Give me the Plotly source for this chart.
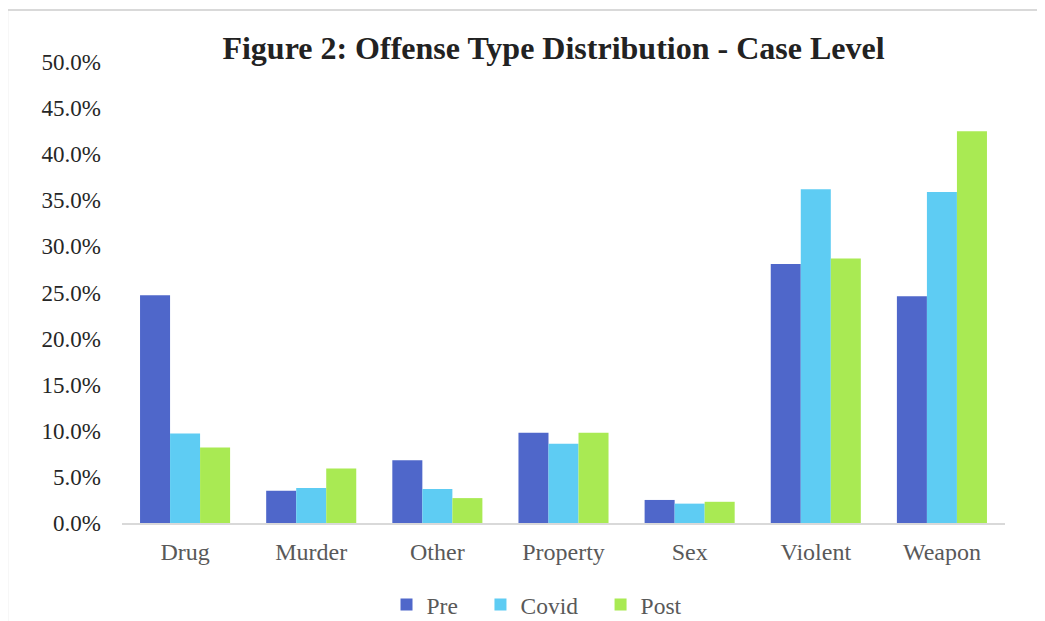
import plotly.graph_objects as go

categories = ['Drug', 'Murder', 'Other', 'Property', 'Sex', 'Violent', 'Weapon']
pre = [0.247, 0.035, 0.068, 0.098, 0.025, 0.281, 0.246]
covid = [0.097, 0.038, 0.037, 0.086, 0.021, 0.362, 0.359]
post = [0.082, 0.059, 0.027, 0.098, 0.023, 0.287, 0.425]

colors = {'Pre': '#4F67CA', 'Covid': '#5ECCF3', 'Post': '#A9EA53'}
pad = '&nbsp;' * 3

fig = go.Figure()
for name, vals, label in [('Pre', pre, 'Pre' + pad), ('Covid', covid, 'Covid' + pad), ('Post', post, 'Post')]:
    fig.add_trace(go.Bar(name=label, x=categories, y=vals, marker_color=colors[name],
                         marker_line_width=0))

fig.update_xaxes(
    showline=True, linecolor='#D9D9D9', linewidth=2,
    tickfont=dict(family='Liberation Serif', size=24, color='#595959'),
    ticks='', ticklabelstandoff=6
)
fig.update_yaxes(
    range=[0, 0.5], dtick=0.05, tickformat='.1%',
    showgrid=False, zeroline=False, showline=False,
    tickfont=dict(family='Liberation Serif', size=23, color='#262626'),
    ticklabelstandoff=20
)
fig.update_layout(
    width=1045, height=621,
    barmode='group', bargap=0.286, bargroupgap=0,
    title=dict(text='<b>Figure 2: Offense Type Distribution - Case Level</b>',
               x=0.522, xanchor='center', y=0.9356, yanchor='middle',
               font=dict(family='Liberation Serif', size=32, color='#222222')),
    legend=dict(orientation='h', x=0.47, xanchor='center',
                yref='container', y=0.039, yanchor='middle',
                font=dict(family='Liberation Serif', size=23.5, color='#595959'),
                itemwidth=30, traceorder='normal'),
    margin=dict(l=114, r=48, t=54, b=106, pad=0, autoexpand=False),
    paper_bgcolor='white', plot_bgcolor='white',
    shapes=[
        dict(type='line', xref='paper', yref='paper', x0=-0.130, x1=1.1, y0=1.113, y1=1.113,
             line=dict(color='#D9D9D9', width=2)),
        dict(type='line', xref='paper', yref='paper', x0=-0.130, x1=-0.130, y0=1.113, y1=-0.3,
             line=dict(color='#D9D9D9', width=2)),
    ]
)

fig.write_html('out.html')
